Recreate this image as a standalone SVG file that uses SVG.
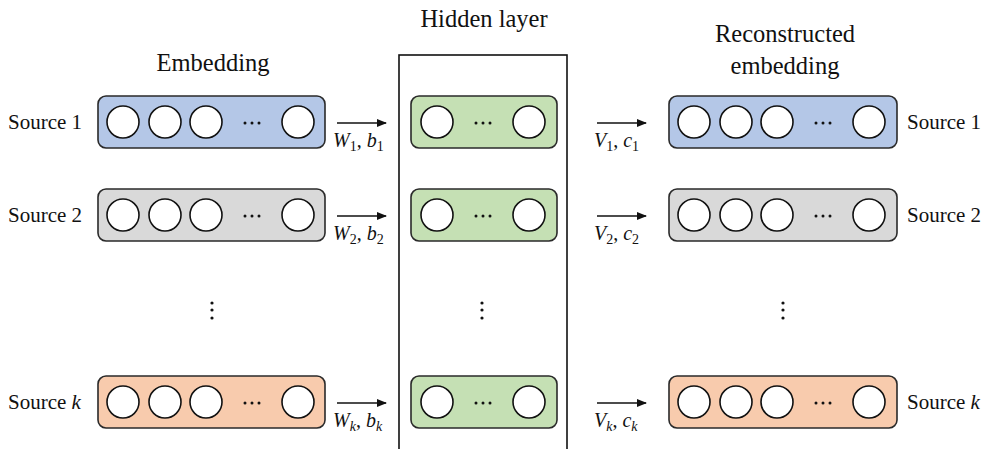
<svg xmlns="http://www.w3.org/2000/svg" width="987" height="449" viewBox="0 0 987 449" font-family="'Liberation Serif', 'Times New Roman', serif">
<defs>
<style>
text{font-family:"Liberation Serif","Times New Roman",serif;fill:#111;}
.lbl{font-size:21px;}
.arl{font-size:20px;}
.ttl{font-size:24.5px;}
.box{stroke:#2a2a2a;stroke-width:1.6;}
.blue{fill:#b4c7e7;}
.gray{fill:#d9d9d9;}
.orange{fill:#f8cbad;}
.green{fill:#c5e0b4;}
.c{fill:#fff;stroke:#111;stroke-width:1.6;}
.it{font-style:italic;}
.sub{font-size:14px;}
.arr{stroke:#111;stroke-width:1.3;fill:none;marker-end:url(#ah);}
.vd{fill:#111;}
</style>
<marker id="ah" markerWidth="10" markerHeight="8" refX="9" refY="4" orient="auto" markerUnits="userSpaceOnUse">
<path d="M0,0 L10,4 L0,8 Z" fill="#111"/>
</marker>
<g id="row5">
<circle class="c" cx="25" cy="0" r="16"/>
<circle class="c" cx="67" cy="0" r="16"/>
<circle class="c" cx="108" cy="0" r="16"/>
<circle class="vd" cx="147" cy="1" r="1.5"/>
<circle class="vd" cx="154" cy="1" r="1.5"/>
<circle class="vd" cx="161" cy="1" r="1.5"/>
<circle class="c" cx="200" cy="0" r="16"/>
</g>
<g id="row2c">
<circle class="c" cx="26" cy="0" r="16"/>
<circle class="vd" cx="65" cy="1" r="1.5"/>
<circle class="vd" cx="72" cy="1" r="1.5"/>
<circle class="vd" cx="79" cy="1" r="1.5"/>
<circle class="c" cx="118" cy="0" r="16"/>
</g>
</defs>
<rect width="987" height="449" fill="#fff"/>

<text class="ttl" x="213" y="71" text-anchor="middle">Embedding</text>
<text class="ttl" x="484" y="27" text-anchor="middle">Hidden layer</text>
<text class="ttl" x="785" y="42" text-anchor="middle">Reconstructed</text>
<text class="ttl" x="785" y="74" text-anchor="middle">embedding</text>

<g id="hidden-layer">
<rect x="399" y="55" width="168" height="410" fill="none" stroke="#111" stroke-width="1.6"/>
</g>

<g id="emb1">
<text class="lbl" x="8" y="129">Source 1</text>
<rect class="box blue" x="98" y="96" width="227" height="52" rx="8"/>
<use href="#row5" x="98" y="122"/>
</g>
<g id="emb2">
<text class="lbl" x="8" y="222">Source 2</text>
<rect class="box gray" x="98" y="189" width="227" height="52" rx="8"/>
<use href="#row5" x="98" y="215"/>
</g>
<g id="embk">
<text class="lbl" x="8" y="409">Source <tspan class="it">k</tspan></text>
<rect class="box orange" x="98" y="376" width="227" height="52" rx="8"/>
<use href="#row5" x="98" y="402"/>
</g>

<g id="hid1">
<rect class="box green" x="411" y="96" width="146" height="52" rx="8"/>
<use href="#row2c" x="411" y="122"/>
</g>
<g id="hid2">
<rect class="box green" x="411" y="189" width="146" height="52" rx="8"/>
<use href="#row2c" x="411" y="215"/>
</g>
<g id="hidk">
<rect class="box green" x="411" y="376" width="146" height="52" rx="8"/>
<use href="#row2c" x="411" y="402"/>
</g>

<g id="rec1">
<rect class="box blue" x="669" y="96" width="228" height="52" rx="8"/>
<use href="#row5" x="669" y="122"/>
<text class="lbl" x="907" y="129">Source 1</text>
</g>
<g id="rec2">
<rect class="box gray" x="669" y="189" width="228" height="52" rx="8"/>
<use href="#row5" x="669" y="215"/>
<text class="lbl" x="907" y="222">Source 2</text>
</g>
<g id="reck">
<rect class="box orange" x="669" y="376" width="228" height="52" rx="8"/>
<use href="#row5" x="669" y="402"/>
<text class="lbl" x="907" y="409">Source <tspan class="it">k</tspan></text>
</g>

<g id="vdots">
<circle class="vd" cx="212" cy="303" r="1.6"/><circle class="vd" cx="212" cy="310" r="1.6"/><circle class="vd" cx="212" cy="318" r="1.6"/>
<circle class="vd" cx="482" cy="303" r="1.6"/><circle class="vd" cx="482" cy="310" r="1.6"/><circle class="vd" cx="482" cy="318" r="1.6"/>
<circle class="vd" cx="783" cy="303" r="1.6"/><circle class="vd" cx="783" cy="310" r="1.6"/><circle class="vd" cx="783" cy="318" r="1.6"/>
</g>

<g id="connectors">
<line class="arr" x1="337" y1="123" x2="386" y2="123"/>
<line class="arr" x1="337" y1="216" x2="386" y2="216"/>
<line class="arr" x1="337" y1="403" x2="386" y2="403"/>
<line class="arr" x1="597" y1="123" x2="646" y2="123"/>
<line class="arr" x1="597" y1="216" x2="646" y2="216"/>
<line class="arr" x1="597" y1="403" x2="646" y2="403"/>
<text class="arl" x="333" y="147"><tspan class="it">W</tspan><tspan class="sub" dy="4">1</tspan><tspan dy="-4">, </tspan><tspan class="it">b</tspan><tspan class="sub" dy="4">1</tspan></text>
<text class="arl" x="333" y="240"><tspan class="it">W</tspan><tspan class="sub" dy="4">2</tspan><tspan dy="-4">, </tspan><tspan class="it">b</tspan><tspan class="sub" dy="4">2</tspan></text>
<text class="arl" x="333" y="427"><tspan class="it">W</tspan><tspan class="sub it" dy="4">k</tspan><tspan dy="-4">, </tspan><tspan class="it">b</tspan><tspan class="sub it" dy="4">k</tspan></text>
<text class="arl" x="594" y="147"><tspan class="it">V</tspan><tspan class="sub" dy="4">1</tspan><tspan dy="-4">, </tspan><tspan class="it">c</tspan><tspan class="sub" dy="4">1</tspan></text>
<text class="arl" x="594" y="240"><tspan class="it">V</tspan><tspan class="sub" dy="4">2</tspan><tspan dy="-4">, </tspan><tspan class="it">c</tspan><tspan class="sub" dy="4">2</tspan></text>
<text class="arl" x="594" y="427"><tspan class="it">V</tspan><tspan class="sub it" dy="4">k</tspan><tspan dy="-4">, </tspan><tspan class="it">c</tspan><tspan class="sub it" dy="4">k</tspan></text>
</g>
</svg>
